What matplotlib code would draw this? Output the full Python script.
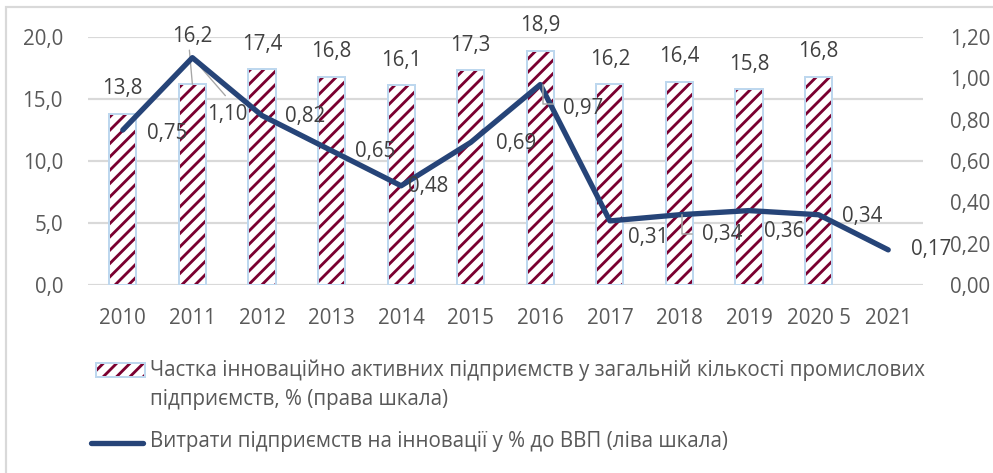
import matplotlib.pyplot as plt
from matplotlib.patches import Rectangle
from matplotlib.lines import Line2D
import numpy as np

years = ['2010', '2011', '2012', '2013', '2014', '2015', '2016', '2017',
         '2018', '2019', '2020 5', '2021']
share_active = [13.8, 16.2, 17.4, 16.8, 16.1, 17.3, 18.9, 16.2, 16.4, 15.8, 16.8]
spending_gdp = [0.75, 1.10, 0.82, 0.65, 0.48, 0.69, 0.97, 0.31, 0.34, 0.36, 0.34, 0.17]

bar_label = ('Частка інноваційно активних підприємств у загальній кількості промислових',
             'підприємств, % (права шкала)')
line_label = 'Витрати підприємств на інновації у % до ВВП (ліва шкала)'

# label offsets in pixels (dx, dy) relative to each point
bar_lab_off = [(0, 25), (0, 48), (0, 25), (0, 25), (0, 25), (0, 25), (0, 25),
               (0, 25), (0, 25), (0, 25), (0, 25)]
line_lab_off = [(44, -3), (35, -57), (43, -1), (44, -1), (27, -1), (45, -1),
                (43, -24), (38, -17), (43, -20), (35, -21), (44, -2), (43, 0)]

DPI = 120
W, H = 993, 473
maroon = '#7A0030'
navy = '#264478'
grey_txt = '#595959'
grid_c = '#D9D9D9'
fs = 12.3

plt.rcParams['font.family'] = ['Open Sans', 'DejaVu Sans']
plt.rcParams['hatch.linewidth'] = 1.7

fig = plt.figure(figsize=(W / DPI, H / DPI), dpi=DPI)
ax = fig.add_axes([88 / W, (H - 285) / H, (923 - 88) / W, 248 / H])
ax2 = ax.twinx()

x = np.arange(len(years))
xb = x[:len(share_active)]

# hatched bars with a thin light-blue outline
ax.bar(xb, share_active, width=0.39, color='white', edgecolor=maroon,
       hatch='///', linewidth=0, zorder=2)
ax.bar(xb, share_active, width=0.39, fill=False, edgecolor='#BDD7EE',
       linewidth=1.2, zorder=3)

ax2.plot(x, spending_gdp, color=navy, lw=3.2, solid_capstyle='round',
         solid_joinstyle='round', zorder=4)

ax.set_xlim(-0.5, len(years) - 0.5)
ax.set_ylim(0, 20)
ax2.set_ylim(0, 1.2)
ax.set_yticks(np.arange(0, 20.1, 5))
ax2.set_yticks(np.arange(0, 1.21, 0.2))
ax.set_yticklabels([f'{v:.1f}'.replace('.', ',') for v in np.arange(0, 20.1, 5)])
ax2.set_yticklabels([f'{v:.2f}'.replace('.', ',') for v in np.arange(0, 1.21, 0.2)])
ax.set_xticks(x)
ax.set_xticklabels(years)

for a in (ax, ax2):
    for s in a.spines.values():
        s.set_visible(False)
    a.tick_params(length=0, labelsize=fs, colors=grey_txt)
ax.tick_params(axis='y', pad=15)
ax2.tick_params(axis='y', pad=16)
ax.tick_params(axis='x', pad=14)
ax.grid(axis='y', color=grid_c, lw=1.3, zorder=0)
ax.set_axisbelow(True)

# data labels
for xi, v, (dx, dy) in zip(xb, share_active, bar_lab_off):
    ax.annotate(f'{v:.1f}'.replace('.', ','), (xi, v), xytext=(dx * 72 / DPI, dy * 72 / DPI),
                textcoords='offset points', ha='center', va='center',
                fontsize=fs, color='#404040', zorder=5)
for xi, v, (dx, dy) in zip(x, spending_gdp, line_lab_off):
    ax2.annotate(f'{v:.2f}'.replace('.', ','), (xi, v), xytext=(dx * 72 / DPI, dy * 72 / DPI),
                 textcoords='offset points', ha='center', va='center',
                 fontsize=fs, color='#404040', zorder=5)

# leader lines for shifted labels
ax.annotate('', (1, share_active[1]), xytext=(-3 * 72 / DPI, 34 * 72 / DPI),
            textcoords='offset points',
            arrowprops=dict(arrowstyle='-', color='#A6A6A6', lw=0.8, shrinkA=0, shrinkB=0))
ax2.annotate('', (1, spending_gdp[1]), xytext=(33 * 72 / DPI, -38 * 72 / DPI),
             textcoords='offset points',
             arrowprops=dict(arrowstyle='-', color='#A6A6A6', lw=0.8, shrinkA=0, shrinkB=0))
for i in (6, 8):
    xd, yd = ax2.transData.transform((x[i], spending_gdp[i]))
    pts = [(xd + 3, yd), (xd + 3, yd - 19), (xd + 13, yd - 19)]
    inv = ax2.transData.inverted()
    px, py = zip(*[inv.transform(p) for p in pts])
    ax2.plot(px, py, color='#A6A6A6', lw=0.9, zorder=5)

# chart border
fig.patches.append(Rectangle((6 / W, -0.1), 1.2, (H - 7) / H + 0.1,
                             transform=fig.transFigure, fill=False,
                             edgecolor=grid_c, lw=1.3))

# legend
fig.patches.append(Rectangle((96 / W, (H - 377) / H), 49 / W, 14 / H,
                             transform=fig.transFigure, facecolor='white',
                             edgecolor=maroon, hatch='///', lw=0))
fig.patches.append(Rectangle((96 / W, (H - 377) / H), 49 / W, 14 / H,
                             transform=fig.transFigure, fill=False,
                             edgecolor='#BDD7EE', lw=1.2))
fig.lines.append(Line2D([91 / W, 143 / W], [(H - 443) / H] * 2,
                        transform=fig.transFigure, color=navy, lw=3.2,
                        solid_capstyle='round'))
fig.text(150 / W, (H - 370) / H, bar_label[0], fontsize=fs, color=grey_txt, va='center')
fig.text(150 / W, (H - 400) / H, bar_label[1], fontsize=fs, color=grey_txt, va='center')
fig.text(150 / W, (H - 442) / H, line_label, fontsize=fs, color=grey_txt, va='center')

fig.savefig('out.png', dpi=DPI)
